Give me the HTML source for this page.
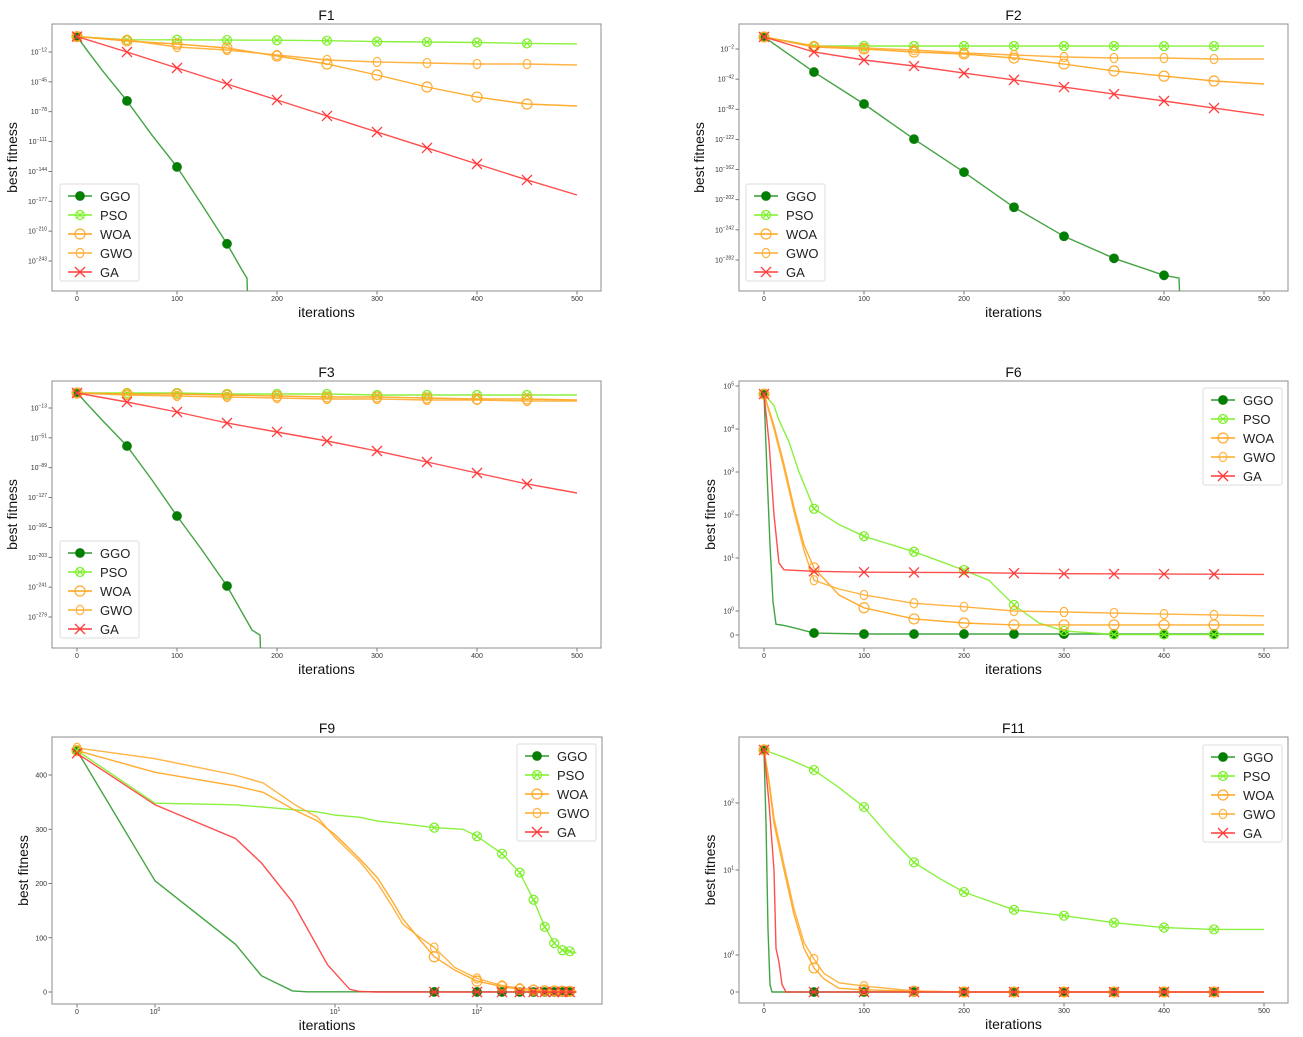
<!DOCTYPE html>
<html><head><meta charset="utf-8"><title>Convergence curves</title>
<style>
html,body{margin:0;padding:0;background:#fff;}
svg{display:block;font-family:"Liberation Sans",sans-serif;}
</style></head>
<body>
<svg id="chart" xmlns="http://www.w3.org/2000/svg" width="1303" height="1037" viewBox="0 0 1303 1037">
<rect x="0" y="0" width="1303" height="1037" fill="#fff"/>
</svg>
<script>
// ---------- data ----------
const algNames = ['GGO','PSO','WOA','GWO','GA'];
const iter50 = [0,50,100,150,200,250,300,350,400,450,500];
const markIters = [0,50,100,150,200,250,300,350,400,450];
const xTicksLin = [0,100,200,300,400,500];

// F1 (values are log10 exponents)
const f1PSO = [5,1.6,1.5,1.2,1,0.5,-0.5,-1,-1.5,-2.5,-3];
const f1WOA = [5,0.2,-3.2,-7.6,-16.4,-25.3,-37.4,-50.7,-61.8,-69.5,-71.7];
const f1GWO = [5,1.3,-6.5,-9.8,-15.3,-20.8,-23,-24.2,-25.3,-25.3,-26.4];
const f1GA = [5,-12,-29.7,-47.4,-65,-82.7,-100.4,-118,-135.8,-153.4,-170];
const f1GGOIter = [0,10,25,50,75,100,125,150,165,170,171];
const f1GGO = [5,-10,-32,-66,-104,-139,-181,-224,-253,-262,-300];
const f1YExp = [-12,-45,-78,-111,-144,-177,-210,-243];

// F2
const f2PSO = [14,2,2,2,2,2,2,2,1.8,1.8,1.8];
const f2GWO = [14,2,-0.7,-3.3,-7.3,-10,-12.6,-14,-14,-15.3,-15.3];
const f2WOA = [14,0.7,-2,-6,-8.6,-14,-22,-31,-38,-44.5,-48.5];
const f2GA = [14,-6,-16.6,-24.6,-34,-43,-52.5,-61.8,-71,-80.4,-89.7];
const f2GGOIter = [0,50,100,150,200,250,300,350,400,415,416];
const f2GGO = [14,-32.6,-75,-121.6,-165.5,-212,-250.5,-279.8,-302.3,-306,-340];
const f2YExp = [-2,-42,-82,-122,-162,-202,-242,-282];

// F3
const f3PSO = [6.1,6.1,6.1,4.8,4.8,4.8,3.5,3.5,3.5,3.5,3.5];
const f3WOA = [6.1,4.8,4.8,3.5,2.3,1,1,-0.3,-1.5,-1.5,-2.8];
const f3GWO = [6.1,3.5,2.3,1,-0.3,-1.5,-1.5,-2.8,-2.8,-4.1,-4.1];
const f3GA = [6.1,-5.4,-18.1,-32.1,-43.5,-55,-67.7,-81.7,-95.7,-109.7,-121.2];
const f3GGOIter = [0,25,50,75,100,125,150,175,183,184];
const f3GGO = [6.1,-28.3,-61.4,-104.6,-150.5,-193.7,-239.5,-295.5,-302,-340];
const f3YExp = [-13,-51,-89,-127,-165,-203,-241,-279];

// F6 (raw values, symlog axis)
const f6GGOIter = [0,3,6,9,12,20,30,50,100,500];
const f6GGO = [65000,1000,20,1.5,0.45,0.4,0.3,0.08,0.04,0.04];
const f6PSOIter = [0,10,15,25,35,50,75,100,150,200,225,250,275,300,350,500];
const f6PSO = [65000,35000,16000,5000,1000,140,60,32,14,5.9,3.8,1.3,0.5,0.17,0.02,0.02];
const f6WOAIter = [0,10,20,30,40,50,75,100,150,200,250,500];
const f6WOA = [65000,12000,1500,150,20,6.5,2,1.15,0.67,0.5,0.42,0.42];
const f6GWOIter = [0,10,20,30,40,50,75,100,150,200,250,300,400,500];
const f6GWO = [65000,10000,1200,120,15,3.8,2.6,2,1.4,1.2,1.0,0.96,0.87,0.8];
const f6GAIter = [0,5,10,15,20,50,100,200,300,500];
const f6GA = [65000,5000,100,8,6,5.6,5.4,5.3,5.05,4.9];
const f6YDec = [null,0,1,2,3,4,5];

// F9 (symlog x axis, linear y)
const f9GGOIter = [0,1,2.8,3.9,5.8,7,500];
const f9GGO = [445,205,88,30,2,0.3,0];
const f9GAIter = [0,1,2.8,3.9,5.8,9.1,12.7,15,20,500];
const f9GA = [440,345,283,238,166,50,5,1,0,0];
const f9PSOIter = [0,1,2.8,5,8,10,15,20,30,50,80,100,150,200,250,300,350,400,450,500];
const f9PSO = [445,348,345,338,332,326,322,315,310,303,300,287,255,220,170,120,90,77,75,72];
const f9OrIter = [0,1,2.8,4,6,8,10,12,15,20,25,30,40,50,70,100,150,200,300,500];
const f9WOA = [445,405,380,368,335,315,290,270,245,210,170,135,95,65,40,20,10,5,2,1];
const f9GWO = [450,430,400,385,345,322,285,265,240,200,160,125,100,82,45,25,12,7,3,1];
const f9YTicks = [0,100,200,300,400];
const f9XDec = [null,0,1,2];

// F11 (symlog y axis)
const f11PSOIter = [0,25,50,75,100,125,150,175,200,250,300,350,400,450,500];
const f11PSO = [620,450,310,170,87,32,13,8,5.5,3.4,2.9,2.4,2.1,2.0,2.0];
const f11OrIter = [0,5,10,20,30,40,50,60,75,100,150,200,500];
const f11WOA = [620,200,50,10,3,1.2,0.65,0.35,0.1,0.06,0.02,0,0];
const f11GWO = [620,220,60,12,3.5,1.4,0.89,0.5,0.25,0.16,0.03,0,0];
const f11GAIter = [0,5,10,12,15,18,22,500];
const f11GA = [620,100,10,1.2,0.8,0.2,0,0];
const f11GGOIter = [0,2,4,6,8,500];
const f11GGO = [620,50,2,0.2,0,0];
const f11YDec = [null,0,1,2];

// ---------- styling ----------
const colors = {GGO:'#2f9a2f', PSO:'#7ef02a', WOA:'#ffa31a', GWO:'#ffab2e', GA:'#ff3b3b'};
const NS = 'http://www.w3.org/2000/svg';
const svg = document.getElementById('chart');

function mk(parent, tag, attrs) {
  const e = document.createElementNS(NS, tag);
  for (const k in attrs) e.setAttribute(k, attrs[k]);
  parent.appendChild(e);
  return e;
}
function interp(t, map) {
  let i = 0;
  while (i < map.length - 2 && t > map[i+1][0]) i++;
  const a = map[i], b = map[i+1];
  return a[1] + (t - a[0]) * (b[1] - a[1]) / (b[0] - a[0]);
}
function symT(v) { return v < 1 ? v : 1 + Math.log10(v); }
function ident(v) { return v; }

const panels = [
  {key:'f1', title:'F1', box:[52,24,601,291], xmap:[[0,77],[500,577]], ymap:[[-12,52],[-243,261]], xf:ident, yf:ident,
   yTicks:f1YExp.map(v=>[v,'e',v]), xTicks:xTicksLin.map(v=>[v,'n',v]), ylabX:12, legend:[60,184],
   series:{GGO:[f1GGOIter,f1GGO],PSO:[iter50,f1PSO],WOA:[iter50,f1WOA],GWO:[iter50,f1GWO],GA:[iter50,f1GA]}},
  {key:'f2', title:'F2', box:[739,24,1288,291], xmap:[[0,764],[500,1264]], ymap:[[-2,49],[-282,260]], xf:ident, yf:ident,
   yTicks:f2YExp.map(v=>[v,'e',v]), xTicks:xTicksLin.map(v=>[v,'n',v]), ylabX:699, legend:[746,184],
   series:{GGO:[f2GGOIter,f2GGO],PSO:[iter50,f2PSO],WOA:[iter50,f2WOA],GWO:[iter50,f2GWO],GA:[iter50,f2GA]}},
  {key:'f3', title:'F3', box:[52,381,601,648], xmap:[[0,77],[500,577]], ymap:[[-13,408],[-279,617]], xf:ident, yf:ident,
   yTicks:f3YExp.map(v=>[v,'e',v]), xTicks:xTicksLin.map(v=>[v,'n',v]), ylabX:12, legend:[60,541],
   series:{GGO:[f3GGOIter,f3GGO],PSO:[iter50,f3PSO],WOA:[iter50,f3WOA],GWO:[iter50,f3GWO],GA:[iter50,f3GA]}},
  {key:'f6', title:'F6', box:[739,381,1288,648], xmap:[[0,764],[500,1264]], ymap:[[0,635],[1,611],[2,558],[3,515],[4,472],[5,429],[6,386]], xf:ident, yf:symT,
   yTicks:f6YDec.map(k=>k===null?[0,'n',0]:[k+1,'e',k]), xTicks:xTicksLin.map(v=>[v,'n',v]), ylabX:710, legend:[1203,388],
   series:{GGO:[f6GGOIter,f6GGO],PSO:[f6PSOIter,f6PSO],WOA:[f6WOAIter,f6WOA],GWO:[f6GWOIter,f6GWO],GA:[f6GAIter,f6GA]}},
  {key:'f9', title:'F9', box:[52,737,602,1004], xmap:[[0,77],[1,155],[2,335],[3,477]], ymap:[[0,992],[400,775]], xf:symT, yf:ident,
   yTicks:f9YTicks.map(v=>[v,'n',v]), xTicks:f9XDec.map(k=>k===null?[0,'n',0]:[k+1,'e',k]), ylabX:23, legend:[517,744], mark9:true,
   series:{GGO:[f9GGOIter,f9GGO],PSO:[f9PSOIter,f9PSO],WOA:[f9OrIter,f9WOA],GWO:[f9OrIter,f9GWO],GA:[f9GAIter,f9GA]}},
  {key:'f11', title:'F11', box:[739,737,1288,1003], xmap:[[0,764],[500,1264]], ymap:[[0,992],[1,955],[2,870],[3,803]], xf:ident, yf:symT,
   yTicks:f11YDec.map(k=>k===null?[0,'n',0]:[k+1,'e',k]), xTicks:xTicksLin.map(v=>[v,'n',v]), ylabX:710, legend:[1203,745],
   series:{GGO:[f11GGOIter,f11GGO],PSO:[f11PSOIter,f11PSO],WOA:[f11OrIter,f11WOA],GWO:[f11OrIter,f11GWO],GA:[f11GAIter,f11GA]}}
];

function drawMarker(g, name, x, y) {
  const c = colors[name];
  let m;
  if (name === 'GGO') {
    m = mk(g, 'circle', {cx:x, cy:y, r:4.5, fill:'#008000', stroke:'#1a7a1a', 'stroke-width':0.8});
  } else if (name === 'PSO') {
    m = mk(g, 'g', {});
    mk(m, 'circle', {cx:x, cy:y, r:4.5, fill:'none', stroke:c, 'stroke-width':1.2});
    mk(m, 'path', {d:`M${x-3},${y-3}L${x+3},${y+3}M${x-3},${y+3}L${x+3},${y-3}`, stroke:c, 'stroke-width':1.2});
  } else if (name === 'WOA') {
    m = mk(g, 'circle', {cx:x, cy:y, r:5, fill:'none', stroke:c, 'stroke-width':1.2, opacity:0.9});
  } else if (name === 'GWO') {
    m = mk(g, 'ellipse', {cx:x, cy:y, rx:3.8, ry:4.6, fill:'none', stroke:c, 'stroke-width':1.2, opacity:0.9});
  } else {
    m = mk(g, 'path', {d:`M${x-5},${y-5}L${x+5},${y+5}M${x-5},${y+5}L${x+5},${y-5}`, stroke:c, 'stroke-width':1.3});
  }
  
  
}

function tickLabel(g, x, y, tick, anchor) {
  const t = mk(g, 'text', {x:x, y:y, 'font-size':7, fill:'#333', 'text-anchor':anchor});
  if (tick[1] === 'e') {
    t.appendChild(document.createTextNode('10'));
    const s = mk(t, 'tspan', {dy:-3, 'font-size':5});
    s.textContent = String(tick[2]).replace('-', '\u2212');
  } else {
    t.textContent = String(tick[2]);
  }
  
  
}

panels.forEach(p => {
  const [x0,y0,x1,y1] = p.box;
  const g = mk(svg, 'g', {});
  
  
  const X = v => interp(p.xf(v), p.xmap);
  const Y = v => interp(p.yf(v), p.ymap);

  const clip = mk(svg, 'clipPath', {id:'clip-' + p.key});
  mk(clip, 'rect', {x:x0, y:y0, width:x1-x0, height:y1-y0});

  const title = mk(g, 'text', {x:(x0+x1)/2, y:y0-4, 'font-size':14, 'text-anchor':'middle', fill:'#111'});
  title.textContent = p.title;
  
  

  const xl = mk(g, 'text', {x:(x0+x1)/2, y:y1+26, 'font-size':14, 'text-anchor':'middle', fill:'#111'});
  xl.textContent = 'iterations';
  
  

  const yc = (y0+y1)/2;
  const yl = mk(g, 'text', {x:p.ylabX, y:yc, 'font-size':14, 'text-anchor':'middle', fill:'#111', transform:`rotate(-90 ${p.ylabX} ${yc}) translate(0 5)`});
  yl.textContent = 'best fitness';
  
  

  p.xTicks.forEach(tk => {
    const px = interp(tk[0], p.xmap);
    mk(g, 'line', {x1:px, x2:px, y1:y1, y2:y1+3.5, stroke:'#555', 'stroke-width':0.8});
    tickLabel(g, px, y1+10, tk, 'middle');
  });
  p.yTicks.forEach(tk => {
    const py = interp(tk[0], p.ymap);
    mk(g, 'line', {x1:x0-3.5, x2:x0, y1:py, y2:py, stroke:'#555', 'stroke-width':0.8});
    tickLabel(g, x0-5, py+2.5, tk, 'end');
  });

  const plot = mk(g, 'g', {'clip-path':`url(#clip-${p.key})`});
  
  

  algNames.forEach(name => {
    const [xs, ys] = p.series[name];
    const pts = xs.map((xv,i) => X(xv).toFixed(1) + ',' + Y(ys[i]).toFixed(1)).join(' ');
    const ln = mk(plot, 'polyline', {points:pts, fill:'none', stroke:colors[name], 'stroke-width':1.4, opacity:0.9});
    
    
    markIters.forEach(mi => {
      if (mi > xs[xs.length-1]) return;
      let i = 0;
      while (i < xs.length - 2 && mi > xs[i+1]) i++;
      const ta = p.xf(xs[i]), tb = p.xf(xs[i+1]), tm = p.xf(mi);
      const ya = p.yf(ys[i]), yb = p.yf(ys[i+1]);
      const yt = ya + (tm - ta) * (yb - ya) / (tb - ta);
      const py = interp(yt, p.ymap);
      if (py > y1 - 1) return;
      drawMarker(plot, name, X(mi), py);
    });
  });

  const frame = mk(g, 'rect', {x:x0, y:y0, width:x1-x0, height:y1-y0, fill:'none', stroke:'#8c8c8c', 'stroke-width':1});
  
  

  const [lx, ly] = p.legend;
  const lg = mk(g, 'g', {});
  
  
  mk(lg, 'rect', {x:lx, y:ly, width:79, height:97, rx:2, fill:'#fff', 'fill-opacity':0.85, stroke:'#ddd', 'stroke-width':1});
  algNames.forEach((name, i) => {
    const ey = ly + 12 + i * 19;
    const eg = mk(lg, 'g', {});
    
    
    mk(eg, 'line', {x1:lx+8, x2:lx+32, y1:ey, y2:ey, stroke:colors[name], 'stroke-width':1.6});
    drawMarker(eg, name, lx+20, ey);
    const t = mk(eg, 'text', {x:lx+40, y:ey+5, 'font-size':13, fill:'#222'});
    t.textContent = name;
  });
});
</script>
</body></html>
